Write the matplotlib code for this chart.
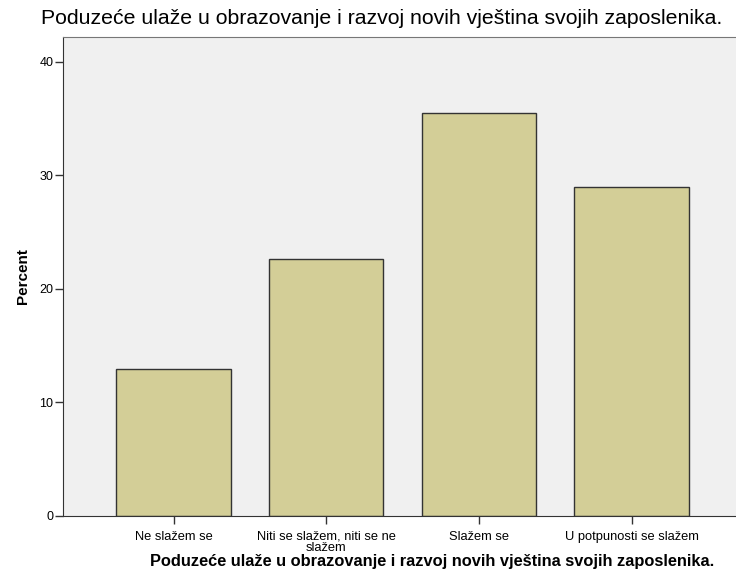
import numpy as np
import matplotlib
matplotlib.use('Agg')
import matplotlib.pyplot as plt

plt.rcParams['font.family'] = ['Liberation Sans', 'DejaVu Sans']

categories = ['Ne slažem se', 'Niti se slažem, niti se ne\nslažem',
              'Slažem se', 'U potpunosti se slažem']
percent = [12.9, 22.6, 35.5, 29.0]
yticks = [0, 10, 20, 30, 40]
title = 'Poduzeće ulaže u obrazovanje i razvoj novih vještina svojih zaposlenika.'

fig = plt.figure(figsize=(7.36, 5.84), dpi=100)
ax = fig.add_axes([0.0856, 0.117, 0.921, 0.819])
ax.set_facecolor('#F0F0F0')

x = np.arange(len(categories))
ax.bar(x, percent, width=0.75, color='#D3CE97', edgecolor='#333333', linewidth=1.0)

ax.set_xlim(-0.724, 3.716)
ax.set_ylim(0, 42.15)
ax.set_yticks(yticks)
ax.set_xticks(x)
ax.set_xticklabels(categories, fontsize=9.3, linespacing=0.95)
ax.tick_params(axis='x', length=6, width=1, color='#333333', pad=5)
ax.tick_params(axis='y', length=6, width=1, color='#333333', labelsize=9, pad=1)

for s in ['left', 'bottom']:
    ax.spines[s].set_color('#333333')
ax.spines['top'].set_color('#777777')
ax.spines['right'].set_visible(False)

ax.set_ylabel('Percent', fontsize=11, fontweight='bold', labelpad=7)

fig.text(0.518, 0.968, title, ha='center', va='center', fontsize=15.3)
fig.text(0.587, 0.038, title, ha='center', va='center', fontsize=11.8, fontweight='bold')

fig.savefig('out.png', dpi=100)
